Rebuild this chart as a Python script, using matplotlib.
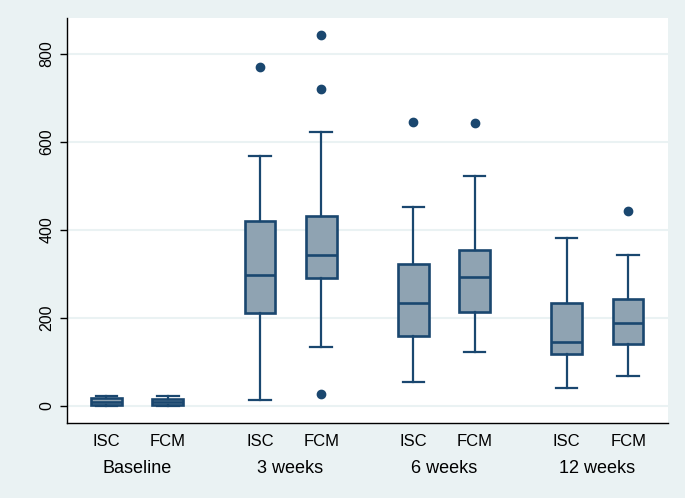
import matplotlib
matplotlib.use("Agg")
import matplotlib.pyplot as plt

# --- data ---
groups = ["Baseline", "3 weeks", "6 weeks", "12 weeks"]
arms = ["ISC", "FCM"]

# order: Baseline ISC, Baseline FCM, 3w ISC, 3w FCM, 6w ISC, 6w FCM, 12w ISC, 12w FCM
whislo = [0, 0, 14, 134, 55, 123, 40, 68]
q1 = [1, 2, 212, 290, 158, 214, 117, 141]
med = [9, 8, 298, 343, 234, 292, 146, 188]
q3 = [17, 15, 421, 432, 322, 355, 234, 242]
whishi = [23, 23, 568, 622, 451, 523, 382, 343]
fliers = [[], [], [771], [843, 720, 27], [645], [643], [], [444]]

NAVY = "#1a476f"
FILL = "#8fa3b2"
BG = "#eaf2f3"

stats = []
for i in range(len(med)):
    stats.append(dict(med=med[i], q1=q1[i], q3=q3[i], whislo=whislo[i],
                      whishi=whishi[i], fliers=fliers[i]))

positions = []
for g in range(len(groups)):
    positions += [g - 0.2, g + 0.2]

fig = plt.figure(figsize=(6.85, 4.98), dpi=100, facecolor=BG)
ax = fig.add_axes([0.098, 0.151, 0.877, 0.813])
ax.set_facecolor("white")

ax.bxp(stats, positions=positions, widths=0.2, patch_artist=True,
       boxprops=dict(facecolor=FILL, edgecolor=NAVY, linewidth=1.9),
       medianprops=dict(color=NAVY, linewidth=1.9),
       whiskerprops=dict(color=NAVY, linewidth=1.6),
       capprops=dict(color=NAVY, linewidth=1.6),
       capwidths=0.14,
       flierprops=dict(marker="o", markerfacecolor=NAVY, markeredgecolor=NAVY,
                       markersize=6),
       zorder=3)

ax.set_ylim(-38.6, 882)
ax.set_xlim(-0.456, 3.459)
ax.set_yticks([0, 200, 400, 600, 800])
ax.yaxis.grid(True, color=BG, linewidth=1.5, zorder=0)
ax.set_axisbelow(True)

for s in ["top", "right"]:
    ax.spines[s].set_visible(False)
for s in ["left", "bottom"]:
    ax.spines[s].set_color("black")
    ax.spines[s].set_linewidth(1.0)

ax.set_xticks(positions)
ax.set_xticklabels(arms * len(groups), fontsize=12, family="Liberation Sans")
ax.tick_params(axis="x", length=0, pad=8)
ax.tick_params(axis="y", length=5, width=1, pad=4)
for lab in ax.get_yticklabels():
    lab.set_rotation(90)
    lab.set_va("center")
    lab.set_fontsize(11.5)
    lab.set_family("Liberation Sans")

for g, name in enumerate(groups):
    ax.text(g, -0.112, name, transform=ax.get_xaxis_transform(), ha="center",
            va="center", fontsize=13, family="Liberation Sans")

fig.savefig("out.png", dpi=100, facecolor=BG)
